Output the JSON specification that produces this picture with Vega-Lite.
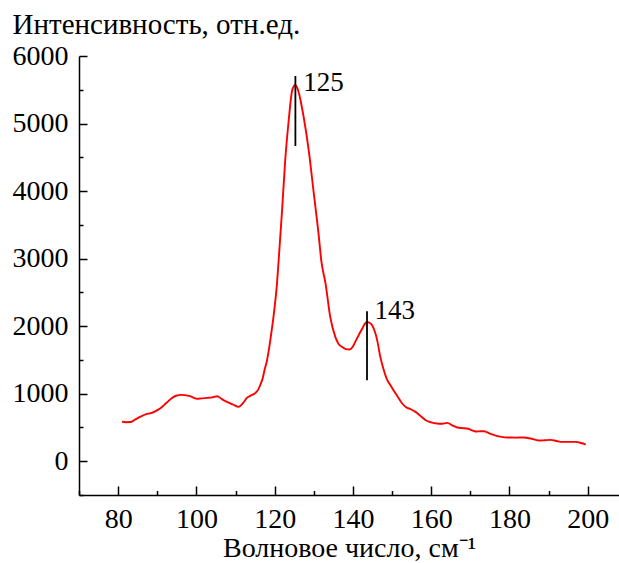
{
  "$schema": "https://vega.github.io/schema/vega-lite/v6.json",
  "autosize": "none",
  "width": 540,
  "height": 439,
  "padding": {"left": 79, "top": 56, "right": 0, "bottom": 68},
  "background": "white",
  "config": {
    "view": {"stroke": null},
    "font": "Liberation Serif",
    "axis": {
      "grid": false,
      "domainColor": "black",
      "domainWidth": 1.5,
      "tickColor": "black",
      "tickWidth": 1.5,
      "labelFont": "Liberation Serif",
      "labelFontSize": 28,
      "labelColor": "black",
      "titleFont": "Liberation Serif",
      "titleFontSize": 28,
      "titleFontWeight": "normal",
      "titleColor": "black"
    }
  },
  "datasets": {
    "spectrum": [
      {"nu": 81.0, "I": 585}, {"nu": 82.0, "I": 578}, {"nu": 83.1, "I": 580}, {"nu": 84.3, "I": 615},
      {"nu": 85.6, "I": 657}, {"nu": 87.0, "I": 695}, {"nu": 88.6, "I": 716}, {"nu": 89.7, "I": 745},
      {"nu": 90.7, "I": 780}, {"nu": 91.8, "I": 835}, {"nu": 92.9, "I": 894}, {"nu": 94.0, "I": 945},
      {"nu": 95.0, "I": 973}, {"nu": 96.0, "I": 982}, {"nu": 97.1, "I": 978}, {"nu": 98.4, "I": 963},
      {"nu": 100.1, "I": 925}, {"nu": 101.3, "I": 930}, {"nu": 102.7, "I": 938}, {"nu": 104.0, "I": 945},
      {"nu": 105.3, "I": 963}, {"nu": 106.5, "I": 920}, {"nu": 107.8, "I": 879}, {"nu": 109.3, "I": 840},
      {"nu": 110.8, "I": 805}, {"nu": 111.9, "I": 860}, {"nu": 112.9, "I": 938}, {"nu": 114.0, "I": 975},
      {"nu": 115.1, "I": 1012}, {"nu": 115.8, "I": 1060}, {"nu": 116.3, "I": 1126}, {"nu": 117.0, "I": 1240},
      {"nu": 117.4, "I": 1348}, {"nu": 118.0, "I": 1480}, {"nu": 118.5, "I": 1644}, {"nu": 119.1, "I": 1880},
      {"nu": 119.7, "I": 2138}, {"nu": 120.6, "I": 2633}, {"nu": 121.2, "I": 3126}, {"nu": 121.9, "I": 3719},
      {"nu": 122.7, "I": 4459}, {"nu": 123.6, "I": 5052}, {"nu": 124.4, "I": 5471}, {"nu": 125.0, "I": 5560},
      {"nu": 125.3, "I": 5570}, {"nu": 125.7, "I": 5540}, {"nu": 126.1, "I": 5471}, {"nu": 127.4, "I": 5101},
      {"nu": 128.7, "I": 4607}, {"nu": 130.0, "I": 3966}, {"nu": 131.3, "I": 3323}, {"nu": 131.9, "I": 2978},
      {"nu": 133.0, "I": 2633}, {"nu": 134.2, "I": 2138}, {"nu": 135.5, "I": 1842}, {"nu": 136.3, "I": 1740},
      {"nu": 137.2, "I": 1693}, {"nu": 138.2, "I": 1660}, {"nu": 139.1, "I": 1655}, {"nu": 140.0, "I": 1700},
      {"nu": 140.6, "I": 1767}, {"nu": 141.5, "I": 1870}, {"nu": 142.4, "I": 1966}, {"nu": 143.0, "I": 2030},
      {"nu": 143.6, "I": 2064}, {"nu": 144.2, "I": 2050}, {"nu": 144.9, "I": 2015}, {"nu": 145.6, "I": 1920},
      {"nu": 146.2, "I": 1793}, {"nu": 147.0, "I": 1545}, {"nu": 147.9, "I": 1348}, {"nu": 148.8, "I": 1200},
      {"nu": 149.6, "I": 1126}, {"nu": 150.5, "I": 1040}, {"nu": 151.3, "I": 970}, {"nu": 152.6, "I": 855},
      {"nu": 153.6, "I": 800}, {"nu": 154.8, "I": 770}, {"nu": 156.0, "I": 731}, {"nu": 157.3, "I": 670},
      {"nu": 158.6, "I": 607}, {"nu": 160.0, "I": 575}, {"nu": 161.5, "I": 558}, {"nu": 162.8, "I": 555},
      {"nu": 164.1, "I": 568}, {"nu": 165.4, "I": 530}, {"nu": 166.7, "I": 499}, {"nu": 168.0, "I": 490},
      {"nu": 169.2, "I": 484}, {"nu": 170.3, "I": 460}, {"nu": 171.4, "I": 440}, {"nu": 172.5, "I": 445},
      {"nu": 173.5, "I": 444}, {"nu": 175.0, "I": 410}, {"nu": 176.5, "I": 380}, {"nu": 178.0, "I": 360},
      {"nu": 179.5, "I": 351}, {"nu": 181.6, "I": 350}, {"nu": 183.7, "I": 351}, {"nu": 185.4, "I": 336},
      {"nu": 187.5, "I": 306}, {"nu": 189.0, "I": 310}, {"nu": 190.5, "I": 316}, {"nu": 192.0, "I": 300},
      {"nu": 193.5, "I": 286}, {"nu": 195.2, "I": 286}, {"nu": 196.9, "I": 286}, {"nu": 198.3, "I": 270},
      {"nu": 199.5, "I": 247}
    ],
    "peaks": [
      {"nu": 125.3, "y0": 4667, "y1": 5704, "tx": 127.3, "ty": 5486, "label": "125"},
      {"nu": 143.6, "y0": 1200, "y1": 2222, "tx": 145.5, "ty": 2099, "label": "143"}
    ]
  },
  "layer": [
    {
      "data": {"name": "spectrum"},
      "mark": {"type": "line", "color": "#ff0000", "strokeWidth": 1.9, "interpolate": "monotone"},
      "encoding": {
        "x": {
          "field": "nu", "type": "quantitative",
          "scale": {"domain": [70, 208], "nice": false, "zero": false},
          "axis": {
            "orient": "bottom",
            "values": [80, 100, 120, 140, 160, 180, 200],
            "format": "d",
            "tickSize": -9,
            "labelBaseline": "alphabetic",
            "labelPadding": 41,
            "labelFlush": false,
            "labelOverlap": false,
            "title": "Волновое число, см⁻¹",
            "titleY": 61,
            "titleBaseline": "alphabetic"
          }
        },
        "y": {
          "field": "I", "type": "quantitative",
          "scale": {"domain": [-500, 6000], "nice": false, "zero": false},
          "axis": {
            "orient": "left",
            "values": [0, 1000, 2000, 3000, 4000, 5000, 6000],
            "format": "d",
            "tickSize": -8,
            "labelPadding": 19,
            "labelFlush": false,
            "labelOverlap": false,
            "title": "Интенсивность, отн.ед.",
            "titleFontSize": 29,
            "titleAngle": 0,
            "titleAlign": "left",
            "titleBaseline": "alphabetic",
            "titleX": -67,
            "titleY": -22.5
          }
        }
      }
    },
    {
      "data": {"name": "peaks"},
      "mark": {"type": "rule", "color": "black", "strokeWidth": 1.8},
      "encoding": {
        "x": {
          "field": "nu", "type": "quantitative",
          "axis": {
            "orient": "bottom",
            "values": [70, 90, 110, 130, 150, 170, 190],
            "tickSize": -4.5,
            "labels": false,
            "domain": false,
            "title": null
          }
        },
        "y": {
          "field": "y0", "type": "quantitative",
          "axis": {
            "orient": "left",
            "values": [-500, 500, 1500, 2500, 3500, 4500, 5500],
            "tickSize": -4,
            "labels": false,
            "domain": false,
            "title": null
          }
        },
        "y2": {"field": "y1"}
      }
    },
    {
      "data": {"name": "peaks"},
      "mark": {"type": "text", "align": "left", "baseline": "alphabetic", "fontSize": 27, "font": "Liberation Serif", "color": "black"},
      "encoding": {
        "x": {"field": "tx", "type": "quantitative", "axis": null},
        "y": {"field": "ty", "type": "quantitative", "axis": null},
        "text": {"field": "label"}
      }
    }
  ],
  "resolve": {"axis": {"x": "independent", "y": "independent"}}
}
